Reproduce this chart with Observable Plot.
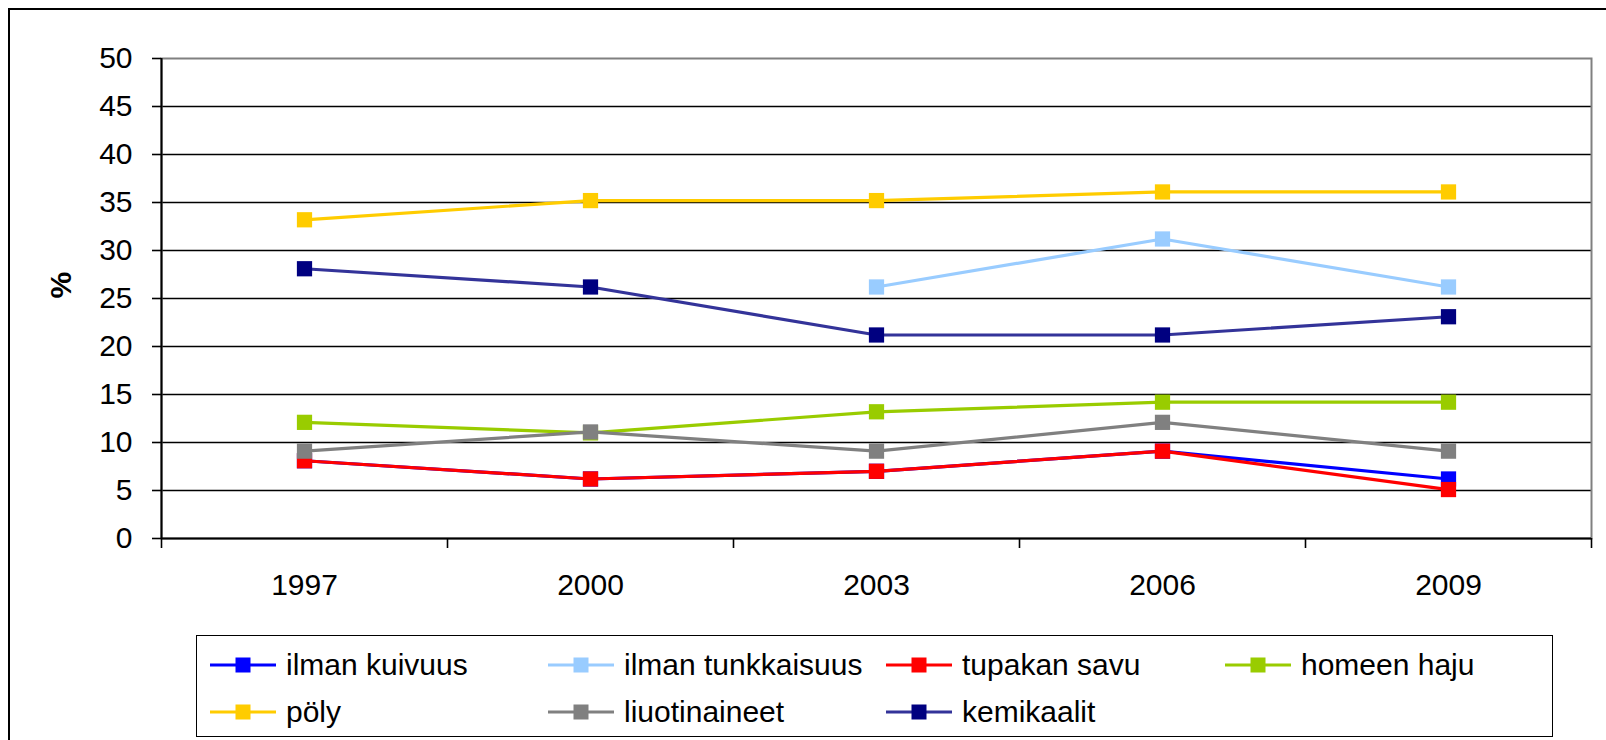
<!DOCTYPE html>
<html><head><meta charset="utf-8">
<script src="https://cdn.jsdelivr.net/npm/d3@7"></script>
<script src="https://cdn.jsdelivr.net/npm/@observablehq/plot@0.6"></script>
<style>
html,body{margin:0;padding:0;background:#fff;width:1606px;height:740px;overflow:hidden;font-family:"Liberation Sans",Arial,sans-serif;}
#outer{position:absolute;left:8px;top:8px;width:1640px;height:800px;border:2px solid #000;box-sizing:border-box;}
#chart{position:absolute;left:0;top:0;}
#legend{position:absolute;left:196px;top:635px;width:1357px;height:102px;border:1.5px solid #000;box-sizing:border-box;background:#fff;}
.item{position:absolute;display:flex;align-items:center;height:40px;font-size:30px;color:#000;white-space:nowrap;}
.item svg{margin-right:10px;}
</style></head>
<body>
<div id="outer"></div>
<div id="chart"></div>
<div id="legend"></div>
<script>
const years = [1997, 2000, 2003, 2006, 2009];
const seriesNames = ["ilman kuivuus", "ilman tunkkaisuus", "tupakan savu", "homeen haju", "pöly", "liuotinaineet", "kemikaalit"];
const ilmanKuivuus     = [8.1, 6.2, 7, 9.1, 6.2];
const ilmanTunkkaisuus = [null, null, 26.2, 31.2, 26.2];
const tupakanSavu      = [8.1, 6.2, 7, 9.1, 5.1];
const homeenHaju       = [12.1, 11, 13.2, 14.2, 14.2];
const poly             = [33.2, 35.2, 35.2, 36.1, 36.1];
const liuotinaineet    = [9.1, 11.1, 9.1, 12.1, 9.1];
const kemikaalit       = [28.1, 26.2, 21.2, 21.2, 23.1];
const lineColors   = ["#0000FF", "#99CCFF", "#FF0000", "#99CC00", "#FFCC00", "#808080", "#333399"];
const markerColors = ["#0000FF", "#99CCFF", "#FF0000", "#99CC00", "#FFCC00", "#808080", "#000080"];
const yTicks = [0, 5, 10, 15, 20, 25, 30, 35, 40, 45, 50];
const yLabel = "%";

const seriesValues = [ilmanKuivuus, ilmanTunkkaisuus, tupakanSavu, homeenHaju, poly, liuotinaineet, kemikaalit];
const step = years[1] - years[0];
const boundaries = years.map(y => y - step / 2).concat([years[years.length - 1] + step / 2]);

const seriesMarks = seriesNames.flatMap((name, i) => {
  const rows = years.map((year, j) => ({series: name, year, value: seriesValues[i][j]}));
  return [
    Plot.line(rows, {x: "year", y: "value", stroke: lineColors[i], strokeWidth: 3.2}),
    Plot.dot(rows.filter(d => d.value != null), {x: "year", y: "value", symbol: "square", r: 8.6, fill: markerColors[i], stroke: "none"})
  ];
});

const chart = Plot.plot({
  width: 1606,
  height: 620,
  marginLeft: 161,
  marginRight: 15,
  marginTop: 58,
  marginBottom: 82,
  style: {fontSize: "30px", fontFamily: "'Liberation Sans', Arial, sans-serif", background: "transparent", color: "#000", overflow: "visible"},
  x: {domain: [boundaries[0], boundaries[boundaries.length - 1]]},
  y: {domain: [0, 50]},
  marks: [
    Plot.ruleY(yTicks.filter(t => t > 0 && t < 50), {stroke: "#000", strokeWidth: 1.6}),
    Plot.frame({stroke: "#808080", strokeWidth: 2}),
    Plot.ruleY([0], {stroke: "#000", strokeWidth: 2}),
    Plot.ruleX([boundaries[0]], {stroke: "#000", strokeWidth: 2}),
    Plot.axisY({ticks: yTicks, tickSize: 9, tickPadding: 20, tickFormat: d => String(d), label: null, strokeWidth: 1.6, fontSize: 30}),
    Plot.axisX({ticks: years, tickSize: 0, tickPadding: 35, tickFormat: d => String(d), label: null, fontSize: 30}),
    Plot.axisX({ticks: boundaries, tickSize: 10, tickFormat: () => "", label: null, strokeWidth: 1.6}),
    ...seriesMarks,
    Plot.text([yLabel], {frameAnchor: "left", dx: -100, rotate: -90, fontWeight: "bold", fontSize: 30})
  ]
});
document.getElementById("chart").appendChild(chart);

// Legend (HTML, below the plot)
const legend = document.getElementById("legend");
const colLeft = [13, 351, 689, 1028];
const rowTop = [9, 56];
seriesNames.forEach((name, i) => {
  const item = document.createElement("div");
  item.className = "item";
  item.style.left = colLeft[i % 4] + "px";
  item.style.top = rowTop[Math.floor(i / 4)] + "px";
  const ns = "http://www.w3.org/2000/svg";
  const svg = document.createElementNS(ns, "svg");
  svg.setAttribute("width", 66);
  svg.setAttribute("height", 20);
  const ln = document.createElementNS(ns, "line");
  ln.setAttribute("x1", 0); ln.setAttribute("x2", 66);
  ln.setAttribute("y1", 10); ln.setAttribute("y2", 10);
  ln.setAttribute("stroke", lineColors[i]); ln.setAttribute("stroke-width", 3.2);
  const sq = document.createElementNS(ns, "rect");
  sq.setAttribute("x", 25.5); sq.setAttribute("y", 2.5);
  sq.setAttribute("width", 15); sq.setAttribute("height", 15);
  sq.setAttribute("fill", markerColors[i]);
  svg.appendChild(ln); svg.appendChild(sq);
  const label = document.createElement("span");
  label.textContent = name;
  item.appendChild(svg); item.appendChild(label);
  legend.appendChild(item);
});
</script>
</body></html>
